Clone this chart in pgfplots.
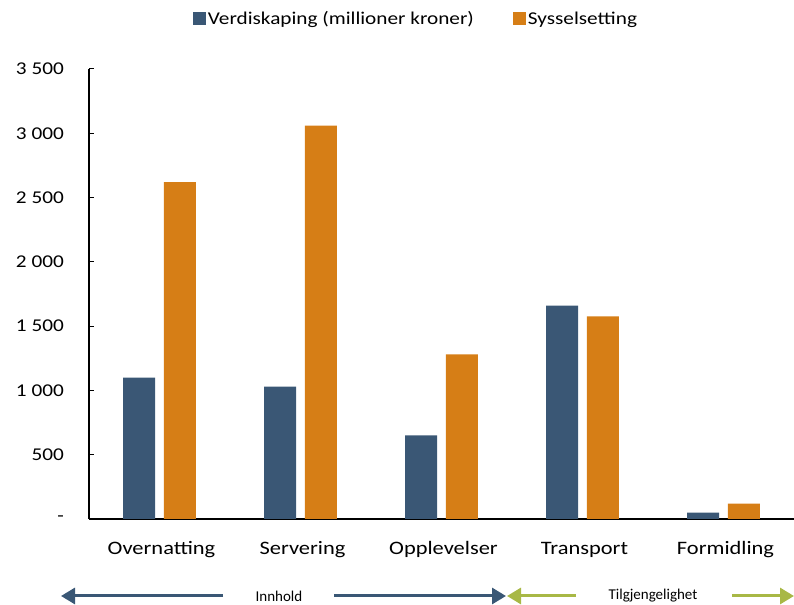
\documentclass[border=0pt]{standalone}
\usepackage{fontspec}
\setmainfont[FakeStretch=1.18]{Carlito}
\newfontfamily\plainfont{Carlito}
\usepackage{pgfplots}
\pgfplotsset{compat=1.18}
\usetikzlibrary{arrows.meta}
\definecolor{vblue}{RGB}{58,87,117}
\definecolor{vorange}{RGB}{214,126,22}
\definecolor{agreen}{RGB}{168,184,70}
\begin{document}
\begin{tikzpicture}
\begin{axis}[
  at={(89bp,86bp)}, anchor=south west,
  scale only axis, width=705bp, height=450bp,
  xmin=-0.5, xmax=4.5, ymin=0, ymax=3500,
  axis lines*=left,
  x axis line style={line width=2bp, black},
  y axis line style={line width=1.2bp, black},
  ybar, bar width=32bp,
  xtick={0,1,2,3,4},
  xticklabels={Overnatting,Servering,Opplevelser,Transport,Formidling},
  xtick style={draw=none},
  xticklabel style={font=\fontsize{19bp}{22bp}\selectfont, anchor=base, yshift=-35bp, xshift=2bp},
  ytick={0,500,1000,1500,2000,2500,3000,3500},
  yticklabels={{-\hspace{10bp}},500,1 000,1 500,2 000,2 500,3 000,3 500},
  tick align=inside,
  major tick length=5bp,
  ytick style={line width=1bp, black},
  yticklabel style={font=\fontsize{18bp}{21bp}\selectfont, anchor=east, inner sep=0pt, xshift=-25bp},
  legend columns=2,
  legend style={at={(0.4638,1.112)}, anchor=center, draw=none, fill=none,
    font=\fontsize{18bp}{21bp}\selectfont,
    /tikz/every even column/.append style={column sep=37bp},
    nodes={inner sep=2bp}},
  legend image code/.code={\fill[#1] (0bp,-6.5bp) rectangle (13bp,6.5bp);},
]
\addplot[fill=vblue, draw=none, bar shift=-20.3bp] coordinates {(0,1100) (1,1030) (2,650) (3,1660) (4,50)};
\addplot[fill=vorange, draw=none, bar shift=20.3bp] coordinates {(0,2620) (1,3060) (2,1280) (3,1575) (4,120)};
\legend{Verdiskaping (millioner kroner), Sysselsetting}
\end{axis}
\draw[vblue, line width=3bp, -{Triangle[length=14bp,width=16bp]}] (223bp,9bp) -- (61bp,9bp);
\draw[vblue, line width=3bp, -{Triangle[length=14bp,width=16bp]}] (334bp,9bp) -- (506bp,9bp);
\node[font=\plainfont\fontsize{15bp}{18bp}\selectfont] at (279bp,9bp) {Innhold};
\draw[agreen, line width=3bp, -{Triangle[length=14bp,width=16bp]}] (576bp,9bp) -- (507bp,9bp);
\draw[agreen, line width=3bp, -{Triangle[length=14bp,width=16bp]}] (732bp,9bp) -- (794bp,9bp);
\node[font=\plainfont\fontsize{15bp}{18bp}\selectfont] at (653bp,9bp) {Tilgjengelighet};
\pgfresetboundingbox
\useasboundingbox (0,0) rectangle (794bp,605bp);
\end{tikzpicture}
\end{document}
